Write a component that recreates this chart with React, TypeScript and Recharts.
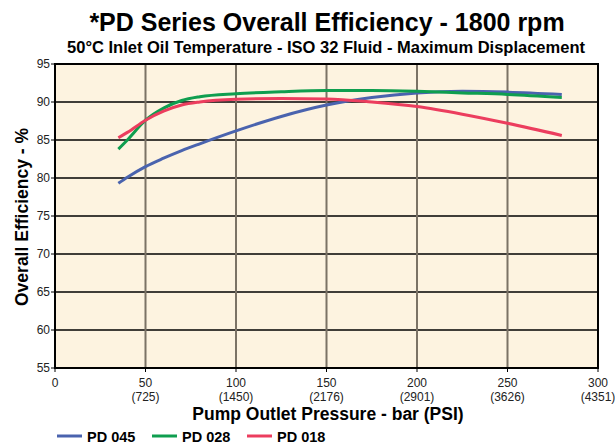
import {
  LineChart,
  Line,
  XAxis,
  YAxis,
  CartesianGrid,
  ReferenceArea,
} from "recharts";

// pressure in bar
const pressure = [35, 40, 50, 60, 70, 80, 100, 125, 150, 175, 200, 225, 250, 280];

const pd045 = [79.3, 80.1, 81.5, 82.6, 83.6, 84.5, 86.2, 88.1, 89.6, 90.6, 91.2, 91.4, 91.3, 91.0];
const pd028 = [83.8, 85.0, 87.6, 89.2, 90.2, 90.7, 91.1, 91.35, 91.5, 91.5, 91.4, 91.2, 91.0, 90.6];
const pd018 = [85.3, 86.0, 87.6, 88.8, 89.6, 90.0, 90.35, 90.45, 90.4, 90.0, 89.4, 88.4, 87.2, 85.6];

const xTicks = [0, 50, 100, 150, 200, 250, 300];
const psiLabels = ["", "(725)", "(1450)", "(2176)", "(2901)", "(3626)", "(4351)"];
const yTicks = [55, 60, 65, 70, 75, 80, 85, 90, 95];

const series = [
  { key: "pd045", name: "PD 045", color: "#4a63ae" },
  { key: "pd028", name: "PD 028", color: "#0f9e4f" },
  { key: "pd018", name: "PD 018", color: "#ec3d5e" },
];

const rows = pressure.map((p, i) => ({
  p,
  pd045: pd045[i],
  pd028: pd028[i],
  pd018: pd018[i],
}));

const FONT = "'Liberation Sans', Arial, Helvetica, sans-serif";

function PsiTick(props: any) {
  const { x, y, payload, index } = props;
  return (
    <g>
      <text x={x} y={y + 13} textAnchor="middle" fontSize={12} fontFamily={FONT} fill="#222">
        {payload.value}
      </text>
      {psiLabels[index] && (
        <text x={x} y={y + 27} textAnchor="middle" fontSize={12} fontFamily={FONT} fill="#222">
          {psiLabels[index]}
        </text>
      )}
    </g>
  );
}

export default function App() {
  return (
    <div
      style={{
        position: "absolute",
        left: 0,
        top: 0,
        width: 615,
        height: 444,
        background: "#fff",
      }}
    >
      <LineChart
        width={615}
        height={444}
        data={rows}
        margin={{ top: 64, right: 17, bottom: 36, left: 5 }}
      >
        <CartesianGrid
          vertical={false}
          stroke="#000"
          strokeWidth={1.5}
          fill="#fdf3e0"
          fillOpacity={1}
        />
        <CartesianGrid horizontal={false} stroke="#7b7265" strokeWidth={2} />
        <XAxis
          dataKey="p"
          type="number"
          domain={[0, 300]}
          ticks={xTicks}
          height={40}
          tick={<PsiTick />}
          tickSize={4}
          axisLine={{ stroke: "#000", strokeWidth: 2 }}
          tickLine={{ stroke: "#000" }}
          interval={0}
        />
        <YAxis
          type="number"
          domain={[55, 95]}
          ticks={yTicks}
          width={50}
          tickSize={4}
          tickMargin={1}
          axisLine={{ stroke: "#000", strokeWidth: 2 }}
          tickLine={{ stroke: "#000" }}
          tick={{ fontSize: 12, fontFamily: FONT, fill: "#222" }}
          interval={0}
        />
        <ReferenceArea
          x1={0}
          x2={300}
          y1={55}
          y2={95}
          fill="none"
          stroke="#000"
          strokeWidth={2}
        />
        {series.map((s) => (
          <Line
            key={s.key}
            dataKey={s.key}
            name={s.name}
            type="monotone"
            stroke={s.color}
            strokeWidth={3}
            dot={false}
            isAnimationActive={false}
          />
        ))}
      </LineChart>

      <svg
        width={615}
        height={444}
        style={{ position: "absolute", left: 0, top: 0, pointerEvents: "none" }}
        fontFamily={FONT}
        fontWeight="bold"
      >
        <text x={327} y={31} textAnchor="middle" fontSize={25}>
          *PD Series Overall Efficiency - 1800 rpm
        </text>
        <text x={326} y={53} textAnchor="middle" fontSize={16.5}>
          50°C Inlet Oil Temperature - ISO 32 Fluid - Maximum Displacement
        </text>
        <text
          x={28}
          y={217}
          textAnchor="middle"
          fontSize={17.5}
          transform="rotate(-90 28 217)"
        >
          Overall Efficiency - %
        </text>
        <text x={328} y={420} textAnchor="middle" fontSize={17.5}>
          Pump Outlet Pressure - bar (PSI)
        </text>
        {series.map((s, i) => {
          const x0 = 57 + i * 95;
          return (
            <g key={s.key}>
              <line x1={x0} x2={x0 + 25} y1={436} y2={436} stroke={s.color} strokeWidth={3} />
              <text x={x0 + 30} y={442} fontSize={14.5}>
                {s.name}
              </text>
            </g>
          );
        })}
      </svg>
    </div>
  );
}
